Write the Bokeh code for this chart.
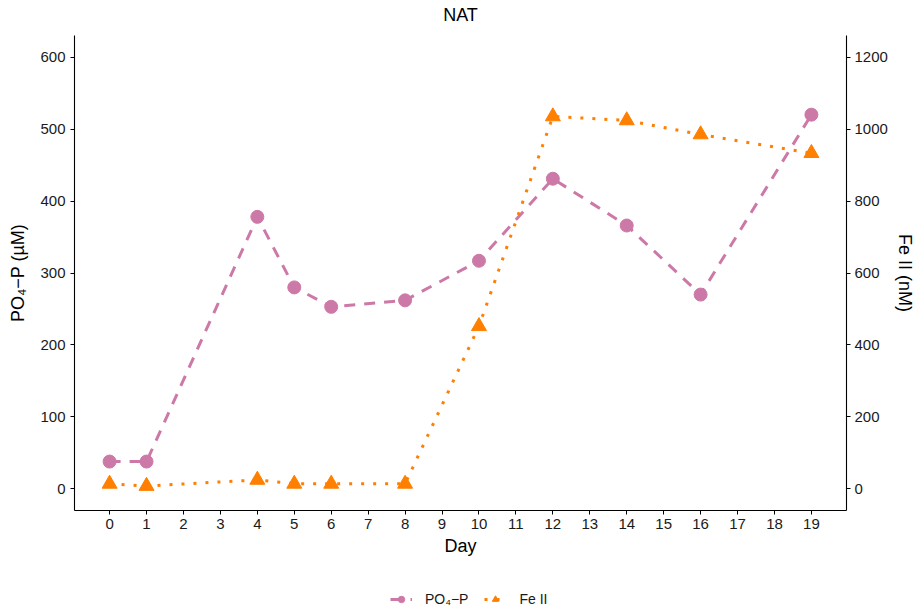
from bokeh.plotting import figure
from bokeh.layouts import column
from bokeh.models import Range1d, LinearAxis, FixedTicker, Legend, LegendItem, Label
from bokeh.embed import file_html
from bokeh.resources import INLINE

# ---- data ----
days = [0, 1, 4, 5, 6, 8, 10, 12, 14, 16, 19]
po4 = [38, 38, 378, 280, 253, 262, 317, 431, 366, 270, 520]
fe2 = [14, 8, 25, 14, 14, 14, 452, 1035, 1024, 985, 933]
x_ticks = list(range(0, 20))
left_ticks = [0, 100, 200, 300, 400, 500, 600]
right_ticks = [0, 200, 400, 600, 800, 1000, 1200]
title_text = "NAT"
x_label = "Day"
left_label = "PO\u2084\u2212P (\u00b5M)"
right_label = "Fe II (nM)"
po4_name = "PO\u2084\u2212P"
fe_name = "Fe II"

PINK = "#CC79A7"
ORANGE = "#FF7F00"
FONT = "Liberation Sans"
TXT = "#1a1a1a"

W = 917
H_TITLE = 24
H_LEG = 30
H_MAIN = 611 - H_TITLE - H_LEG

x_range = Range1d(-0.95, 19.95)

# ---- title strip ----
t = figure(width=W, height=H_TITLE, output_backend="svg", toolbar_location=None,
           x_axis_location=None, y_axis_location=None, min_border=0,
           x_range=x_range, y_range=Range1d(0, 1))
t.outline_line_color = None
t.xgrid.visible = False
t.ygrid.visible = False
t.background_fill_color = "white"
t.border_fill_color = "white"
t.add_layout(Label(x=(x_range.start + x_range.end) / 2, y=0.4, text=title_text,
                   text_align="center", text_baseline="middle", text_font=FONT,
                   text_font_size="18px", text_color="black"))

# ---- main chart ----
p = figure(width=W, height=H_MAIN, output_backend="svg", toolbar_location=None,
           x_range=x_range, y_range=Range1d(-30, 630),
           min_border_left=74, min_border_right=70, min_border_top=35 - H_TITLE,
           min_border_bottom=71)
p.extra_y_ranges = {"fe": Range1d(-60, 1260)}

p.background_fill_color = "white"
p.border_fill_color = "white"
p.outline_line_color = None
p.xgrid.visible = False
p.ygrid.visible = False

right_axis = LinearAxis(y_range_name="fe", axis_label=right_label)
p.add_layout(right_axis, "right")

p.xaxis.ticker = FixedTicker(ticks=x_ticks)
p.yaxis[0].ticker = FixedTicker(ticks=left_ticks)
right_axis.ticker = FixedTicker(ticks=right_ticks)
p.xaxis.axis_label = x_label
p.yaxis[0].axis_label = left_label

for ax in [p.xaxis[0], p.yaxis[0], right_axis]:
    ax.axis_line_color = "black"
    ax.axis_line_width = 1.1
    ax.major_tick_line_color = "black"
    ax.major_tick_in = 0
    ax.major_tick_out = 4
    ax.minor_tick_line_color = None
    ax.major_label_text_font = FONT
    ax.major_label_text_font_size = "15px"
    ax.major_label_text_color = TXT
    ax.axis_label_text_font = FONT
    ax.axis_label_text_font_size = "18px"
    ax.axis_label_text_font_style = "normal"
    ax.axis_label_text_color = "black"

p.xaxis.major_label_standoff = 4
p.xaxis.axis_label_standoff = 4
p.yaxis[0].major_label_standoff = 5
p.yaxis[0].axis_label_standoff = 9
right_axis.major_label_standoff = 4
right_axis.axis_label_standoff = 4

line_style_po4 = dict(line_color=PINK, line_width=3, line_dash="11 9")
pts_style_po4 = dict(marker="circle", size=13, fill_color=PINK, line_color=PINK)
line_style_fe = dict(line_color=ORANGE, line_width=3, line_dash="3 9")
pts_style_fe = dict(marker="triangle", size=15, fill_color=ORANGE, line_color=ORANGE)

p.line(days, po4, **line_style_po4)
p.scatter(days, po4, **pts_style_po4)
p.line(days, fe2, y_range_name="fe", **line_style_fe)
p.scatter(days, fe2, y_range_name="fe", **pts_style_fe)

# ---- legend strip below the chart ----
# key renderers reuse the series but lie outside this strip's view range,
# so only their legend keys are seen
q = figure(width=W, height=H_LEG, output_backend="svg", toolbar_location=None,
           x_axis_location=None, y_axis_location=None, min_border=0,
           x_range=Range1d(0, 1), y_range=Range1d(-2, -1))
q.outline_line_color = None
q.xgrid.visible = False
q.ygrid.visible = False
q.background_fill_color = "white"
q.border_fill_color = "white"

k1 = q.line(days, po4, **line_style_po4)
k2 = q.scatter(days, po4, **pts_style_po4)
k3 = q.line(days, fe2, **line_style_fe)
k4 = q.scatter(days, fe2, **pts_style_fe)

legend = Legend(items=[LegendItem(label=po4_name, renderers=[k1, k2]),
                       LegendItem(label=fe_name, renderers=[k3, k4])],
                orientation="horizontal", location=(316, 4),
                border_line_color=None, background_fill_alpha=0,
                label_text_font=FONT, label_text_font_size="14px",
                label_text_color=TXT, glyph_width=22, glyph_height=16,
                label_height=16, label_standoff=13, spacing=16, padding=0,
                margin=0)
q.add_layout(legend, "center")

open("out.html", "w").write(file_html(column(t, p, q, spacing=0), INLINE))
